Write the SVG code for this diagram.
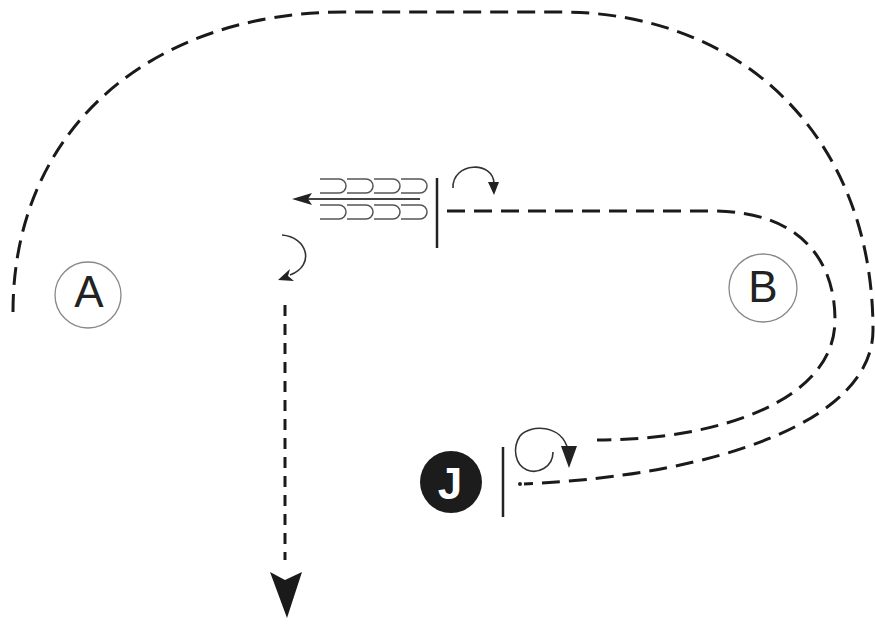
<svg xmlns="http://www.w3.org/2000/svg" width="875" height="624" viewBox="0 0 875 624">
<style>
.dash{fill:none;stroke:#1a1a1a;stroke-width:3;stroke-dasharray:18 9}
.thin{fill:none;stroke:#333;stroke-width:1.6}
.ring{fill:#fff;stroke:#888;stroke-width:1.3}
.lbl{font-family:"Liberation Sans",Arial,sans-serif;font-size:44px;fill:#222;text-anchor:middle}
.bar{stroke:#222;stroke-width:2.5}
.hs{fill:none;stroke:#555;stroke-width:1.5}
</style>
<rect width="875" height="624" fill="#fff"/>
<g id="connectors">
<path class="dash" d="M 13 312 C 13 130, 150 12, 345 12 L 560 12 C 745 12, 873 140, 873 330 C 873 420, 720 475, 524 484"/>
<circle cx="520" cy="484" r="2" fill="#222"/>
<path class="dash" d="M 447 211 L 712 211 C 800 211, 835 260, 835 320 C 835 400, 720 440, 597 440"/>
<path d="M 285 305 L 285 560" fill="none" stroke="#1a1a1a" stroke-width="3" stroke-dasharray="11 8"/>
<path d="M 270 572 L 285 580 L 302 572 L 287 618 Z" fill="#1a1a1a"/>
</g>
<g id="stack">
<path class="hs" d="M320 179 H339 A7 7 0 0 1 339 193 H320 M347 179 H366 A7 7 0 0 1 366 193 H347 M374 179 H393 A7 7 0 0 1 393 193 H374 M401 179 H420 A7 7 0 0 1 420 193 H401"/>
<path class="hs" d="M320 205 H339 A7 7 0 0 1 339 219 H320 M347 205 H366 A7 7 0 0 1 366 219 H347 M374 205 H393 A7 7 0 0 1 393 219 H374 M401 205 H420 A7 7 0 0 1 420 219 H401"/>
<line x1="420" y1="199" x2="305" y2="199" stroke="#444" stroke-width="2"/>
<path d="M 292 199 L 312 193 L 308 199 L 312 205 Z" fill="#222"/>
<line class="bar" x1="437" y1="178" x2="437" y2="248"/>
</g>
<g id="rot-top">
<path class="thin" d="M 453 188 C 452 162, 494 160, 494 184"/>
<path d="M 488 182 L 499 182 L 494 195 Z" fill="#222"/>
</g>
<g id="rot-left">
<path class="thin" d="M 282 235 C 307 237, 316 265, 290 275"/>
<path d="M 278 280 L 290 269 L 288 276 L 294 281 Z" fill="#222"/>
</g>
<g id="node-A">
<circle class="ring" cx="88" cy="295" r="33"/>
<text class="lbl" x="89" y="307">A</text>
</g>
<g id="node-B">
<circle class="ring" cx="763" cy="288" r="34"/>
<text class="lbl" x="763" y="302">B</text>
</g>
<g id="node-J">
<circle cx="451" cy="482" r="31" fill="#1c1c1c"/>
<text x="450" y="499" font-family="'Liberation Sans',Arial,sans-serif" font-size="44" font-weight="bold" fill="#fff" text-anchor="middle">J</text>
<line class="bar" x1="503" y1="447" x2="503" y2="517"/>
<path class="thin" d="M 553 452 C 553 468, 537 474, 527 470 C 515 465, 512 448, 520 436 C 530 424, 562 424, 568 450"/>
<path d="M 561 446 L 577 446 L 569 468 Z" fill="#222"/>
</g>
</svg>
